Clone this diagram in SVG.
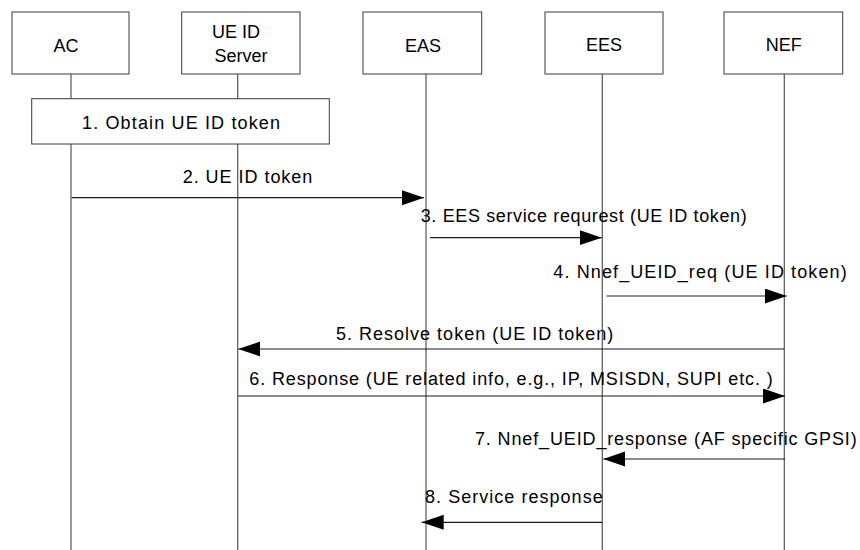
<svg xmlns="http://www.w3.org/2000/svg" width="860" height="550" viewBox="0 0 860 550">
  <style>
    .box { fill: #ffffff; stroke: #3a3a3a; stroke-width: 1; }
    .life { stroke: #555555; stroke-width: 1.2; fill: none; }
    .msg { stroke: #1a1a1a; stroke-width: 1.2; fill: none; marker-end: url(#arrow); }
    text { font-family: "Liberation Sans", Arial, sans-serif; font-size: 18px; fill: #000000; }
    .c { text-anchor: middle; }
  </style>
  <defs>
    <marker id="arrow" markerUnits="userSpaceOnUse" markerWidth="23" markerHeight="16" refX="22" refY="7.5" orient="auto">
      <path d="M0,0 L22,7.5 L0,15 Z" fill="#000000"/>
    </marker>
  </defs>
  <rect width="860" height="550" fill="#ffffff"/>

  <!-- lifelines -->
  <g id="lifelines">
    <line class="life" x1="71" y1="74" x2="71" y2="550"/>
    <line class="life" x1="237.7" y1="74" x2="237.7" y2="550"/>
    <line class="life" x1="426" y1="74" x2="426" y2="550"/>
    <line class="life" x1="602.3" y1="74" x2="602.3" y2="550"/>
    <line class="life" x1="784.3" y1="74" x2="784.3" y2="550"/>
  </g>

  <!-- participants -->
  <g id="ac">
    <rect class="box" x="12" y="12" width="117" height="62"/>
    <text class="c" x="66" y="51.7">AC</text>
  </g>
  <g id="ue-id-server">
    <rect class="box" x="181.7" y="12" width="118.3" height="62"/>
    <text class="c" x="236" y="37.7">UE ID</text>
    <text class="c" x="241" y="61.7">Server</text>
  </g>
  <g id="eas">
    <rect class="box" x="363" y="12" width="118.7" height="62"/>
    <text class="c" x="423" y="52">EAS</text>
  </g>
  <g id="ees">
    <rect class="box" x="545" y="12" width="118" height="62"/>
    <text class="c" x="604" y="50.5">EES</text>
  </g>
  <g id="nef">
    <rect class="box" x="724" y="12" width="118.7" height="62"/>
    <text class="c" x="783.7" y="50.5">NEF</text>
  </g>

  <!-- step 1 spans AC and UE ID Server -->
  <g id="step1">
    <rect class="box" x="31.7" y="98.7" width="297.6" height="45.3"/>
    <text x="82" y="129.3" textLength="198" lengthAdjust="spacing">1. Obtain UE ID token</text>
  </g>

  <!-- messages -->
  <g id="connectors">
    <line class="msg" x1="71.7" y1="197.7" x2="424" y2="197.7"/>
    <line class="msg" x1="430" y1="237.7" x2="601.7" y2="237.7"/>
    <line class="msg" x1="606.7" y1="296" x2="786.7" y2="296"/>
    <line class="msg" x1="784" y1="349" x2="238.3" y2="349"/>
    <line class="msg" x1="238" y1="396" x2="785" y2="396"/>
    <line class="msg" x1="785" y1="459" x2="603.3" y2="459"/>
    <line class="msg" x1="602" y1="522.3" x2="421.7" y2="522.3"/>
  </g>

  <g id="labels">
    <text x="182.7" y="183.3" textLength="129.6" lengthAdjust="spacing">2. UE ID token</text>
    <text x="420.7" y="221.7" textLength="326" lengthAdjust="spacing">3. EES service requrest (UE ID token)</text>
    <text x="553.3" y="278.3" textLength="293.4" lengthAdjust="spacing">4. Nnef_UEID_req (UE ID token)</text>
    <text x="336" y="340" textLength="277.3" lengthAdjust="spacing">5. Resolve token (UE ID token)</text>
    <text x="249.3" y="385" textLength="523.4" lengthAdjust="spacing">6. Response (UE related info, e.g., IP, MSISDN, SUPI etc. )</text>
    <text x="475" y="445" textLength="381.7" lengthAdjust="spacing">7. Nnef_UEID_response (AF specific GPSI)</text>
    <text x="425" y="503.3" textLength="177.7" lengthAdjust="spacing">8. Service response</text>
  </g>
</svg>
